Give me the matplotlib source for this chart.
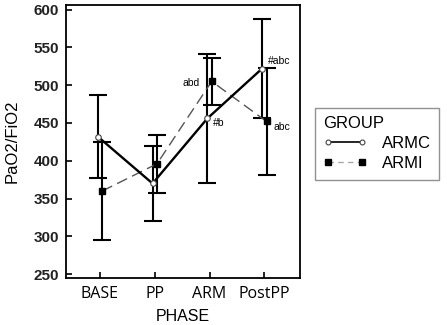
import matplotlib
matplotlib.use("Agg")
import matplotlib.pyplot as plt
import numpy as np
from matplotlib.lines import Line2D

phases = ["BASE", "PP", "ARM", "PostPP"]
armc_mean = [432, 370, 456, 522]
armc_err = [55, 49, 85, 65]
armi_mean = [360, 396, 505, 452]
armi_err = [65, 38, 31, 71]
annotations = [("abd", 2, 503, "right"), ("#b", 2, 450, "left"),
               ("#abc", 3, 532, "left"), ("abc", 3, 445, "left")]
yticks = [250, 300, 350, 400, 450, 500, 550, 600]

fig = plt.figure(figsize=(4.47, 3.25), dpi=100)
ax = fig.add_axes([0.1477, 0.1446, 0.671 - 0.1477, 0.9846 - 0.1446])

x = np.arange(len(phases))
dx = 0.04

ax.errorbar(x - dx, armc_mean, yerr=armc_err, fmt="none", ecolor="black",
            elinewidth=1.5, capsize=6.5, capthick=1.5, zorder=2)
ax.errorbar(x + dx, armi_mean, yerr=armi_err, fmt="none", ecolor="black",
            elinewidth=1.5, capsize=6.5, capthick=1.5, zorder=2)
ax.plot(x + dx, armi_mean, color="#555555", lw=1.0, ls=(0, (8, 4)),
        marker="s", ms=5, mfc="black", mec="black", zorder=3)
ax.plot(x - dx, armc_mean, color="black", lw=1.7, ls="-",
        marker="o", ms=4, mfc="white", mec="#444444", mew=0.8, zorder=4)

for txt, xi, yv, ha in annotations:
    off = -0.18 if ha == "right" else 0.07
    if txt == "abc":
        off = 0.16
    ax.text(xi + off, yv, txt, ha=ha, va="center", fontsize=7.5,
            family="Liberation Sans")

ax.set_xlim(-0.62, 3.65)
ax.set_ylim(245, 606)
ax.set_xticks(x)
ax.set_xticklabels(phases, family="Open Sans", fontsize=11.5)
ax.set_yticks(yticks)
ax.set_yticklabels([str(v) for v in yticks], family="Liberation Sans",
                   fontsize=11, fontweight="bold", color="#222222")
ax.tick_params(axis="both", direction="in", length=4, width=1.2, color="black")
ax.tick_params(axis="x", pad=6)
ax.tick_params(axis="y", pad=5)
for s in ax.spines.values():
    s.set_linewidth(1.3)
ax.set_xlabel("PHASE", family="Liberation Sans", fontsize=11.5, labelpad=5)
ax.set_ylabel("PaO2/FiO2", family="Liberation Sans", fontsize=12, labelpad=10)

handles = [
    Line2D([0], [0], color="black", lw=1.2, marker="o", ms=3.5, mfc="white",
           mec="#444444", mew=0.8),
    Line2D([0], [0], color="#aaaaaa", lw=1.0, ls=(0, (4, 3)), marker="s",
           ms=4, mfc="black", mec="black"),
]
leg = fig.legend(handles, ["ARMC", "ARMI"], title="GROUP", numpoints=2,
                 loc="upper left", bbox_to_anchor=(315 / 447, 1 - 108 / 325),
                 prop={"family": "Liberation Sans", "size": 12},
                 title_fontproperties={"family": "Liberation Sans", "size": 12},
                 frameon=True, fancybox=False, handlelength=2.6,
                 borderpad=0.5, labelspacing=0.3, handletextpad=0.9,
                 borderaxespad=0)
leg._legend_box.align = "left"
leg.get_frame().set_edgecolor("#777777")
leg.get_frame().set_linewidth(1.0)

fig.savefig("out.png", dpi=100)
